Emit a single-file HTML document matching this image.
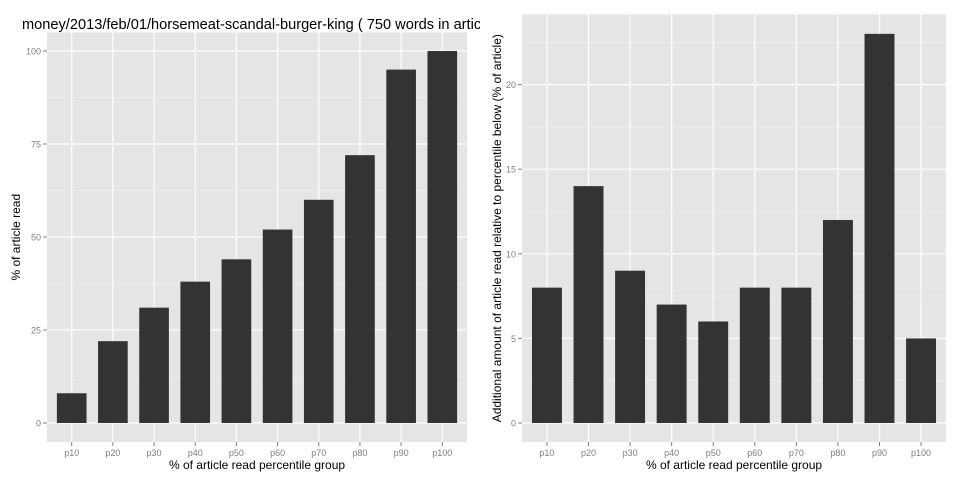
<!DOCTYPE html>
<html><head><meta charset="utf-8"><style>
html,body{margin:0;padding:0;background:#fff;}
svg{display:block;font-family:"Liberation Sans",sans-serif;}
</style></head><body>
<svg id="chart" width="960" height="480"></svg>
<script>
const categories = ["p10","p20","p30","p40","p50","p60","p70","p80","p90","p100"];
const leftValues = [8,22,31,38,44,52,60,72,95,100];
const rightValues = [8,14,9,7,6,8,8,12,23,5];
const leftTicks = [0,25,50,75,100];
const rightTicks = [0,5,10,15,20];

const NS="http://www.w3.org/2000/svg";
const svg=document.getElementById('chart');
function mk(tag,attrs,parent){const e=document.createElementNS(NS,tag);for(const k in attrs)e.setAttribute(k,attrs[k]);(parent||svg).appendChild(e);return e;}

const defs=mk('defs',{});
const clip=mk('clipPath',{id:'tc'},defs);
mk('rect',{x:0,y:0,width:480,height:40},clip);

function panel(cfg){
  const g=mk('g',{});
  
  
  const {x0,x1,top,bottom,zeroY,ymax,values,ticks,minor}=cfg;
  const yScale=v=>zeroY-(zeroY-top)*v/(ymax*1.05);
  const n=categories.length;
  const step=(x1-x0)/(n-1+1.2);
  const xScale=i=>x0+step*0.6+i*step;
  const bg=mk('rect',{x:x0,y:top,width:x1-x0,height:bottom-top,fill:'#e5e5e5'},g);
  
  
  minor.forEach(v=>{mk('line',{x1:x0,x2:x1,y1:yScale(v),y2:yScale(v),stroke:'#f2f2f2','stroke-width':0.6},g);});
  ticks.forEach(v=>{
    const y=yScale(v);
    mk('line',{x1:x0,x2:x1,y1:y,y2:y,stroke:'#fff','stroke-width':1.2},g);
    mk('line',{x1:x0-4,x2:x0,y1:y,y2:y,stroke:'#7f7f7f','stroke-width':1},g);
    const t=mk('text',{x:x0-6,y:y+3.5,'text-anchor':'end','font-size':9,fill:'#7f7f7f'},g);
    t.textContent=v;
    
    
  });
  categories.forEach((c,i)=>{
    const x=xScale(i);
    mk('line',{x1:x,x2:x,y1:top,y2:bottom,stroke:'#fff','stroke-width':1.2},g);
    mk('line',{x1:x,x2:x,y1:bottom,y2:bottom+4,stroke:'#7f7f7f','stroke-width':1},g);
    const t=mk('text',{x:x,y:bottom+14,'text-anchor':'middle','font-size':9,fill:'#7f7f7f'},g);
    t.textContent=c;
    
    
  });
  const bw=step*0.72;
  values.forEach((v,i)=>{
    const y=yScale(v);
    const r=mk('rect',{x:xScale(i)-bw/2,y:y,width:bw,height:zeroY-y,fill:'#333333'},g);
    
    
  });
  const xt=mk('text',{x:(x0+x1)/2,y:bottom+27,'text-anchor':'middle','font-size':12,fill:'#000'},g);
  xt.textContent='% of article read percentile group';
  
  
  const yc=(top+bottom)/2;
  const yt=mk('text',{x:cfg.ytx,y:yc,'text-anchor':'middle','font-size':12,fill:'#000',transform:`rotate(-90 ${cfg.ytx} ${yc})`},g);
  yt.textContent=cfg.ytitle;
  
  
}

panel({name:'left-panel',x0:47,x1:467,top:32.4,bottom:442,zeroY:423,ymax:100,values:leftValues,ticks:leftTicks,minor:[12.5,37.5,62.5,87.5],ytitle:'% of article read',ytx:20});
panel({name:'right-panel',x0:522,x1:946,top:14.4,bottom:442,zeroY:423,ymax:23,values:rightValues,ticks:rightTicks,minor:[2.5,7.5,12.5,17.5,22.5],ytitle:'Additional amount of article read relative to percentile below (% of article)',ytx:501});

const title=mk('text',{x:22,y:29,'font-size':14.6,fill:'#000','clip-path':'url(#tc)'});
title.textContent='money/2013/feb/01/horsemeat-scandal-burger-king ( 750 words in article)';


</script>
</body></html>
